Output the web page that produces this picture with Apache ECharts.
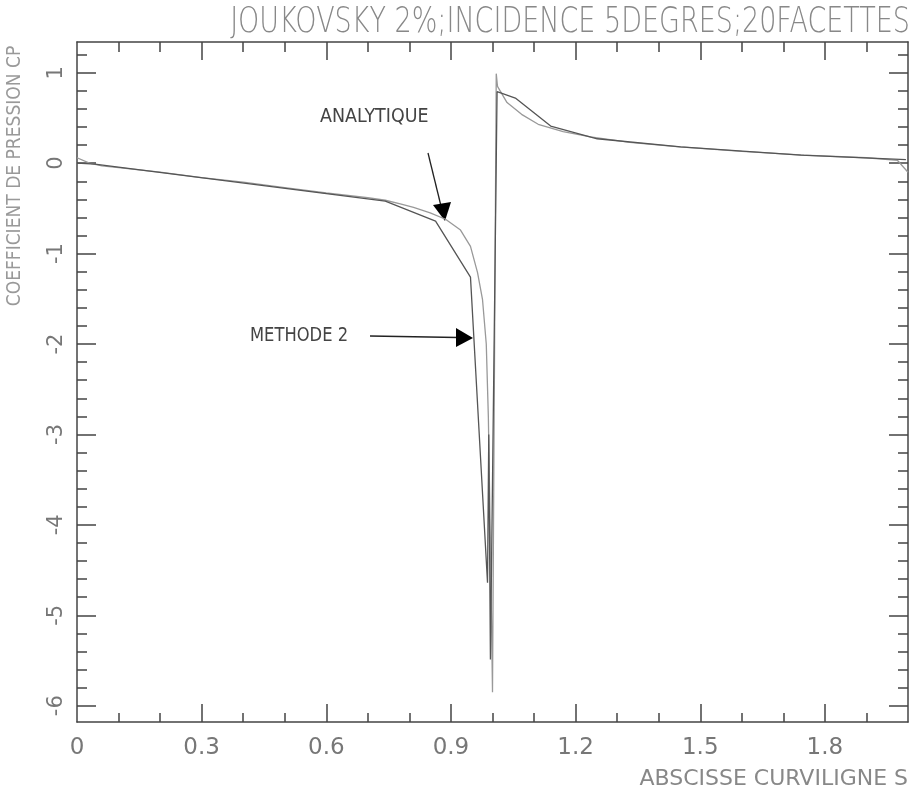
<!DOCTYPE html>
<html><head><meta charset="utf-8">
<script src="https://cdn.jsdelivr.net/npm/echarts@6/dist/echarts.min.js"></script>
<style>html,body{margin:0;padding:0;background:#fff}#c{width:912px;height:796px}</style>
</head><body><div id="c"></div>
<script>
// ---- data (abscisse curviligne s, coefficient de pression Cp) ----
const analytiqueS  = [0.000,0.030,0.060,0.100,0.200,0.300,0.400,0.500,0.600,0.700,0.742,0.778,0.810,0.850,0.887,0.923,0.947,0.964,0.976,0.985,0.990,0.995,1.000,1.009,1.012,1.035,1.070,1.110,1.170,1.236,1.330,1.450,1.600,1.750,1.900,1.975,2.000];
const analytiqueCp = [0.06,0.00,-0.03,-0.05,-0.10,-0.16,-0.21,-0.27,-0.33,-0.38,-0.41,-0.45,-0.49,-0.55,-0.62,-0.74,-0.92,-1.21,-1.51,-2.00,-2.80,-4.20,-5.85,0.99,0.85,0.67,0.54,0.43,0.35,0.29,0.23,0.18,0.13,0.09,0.06,0.03,-0.10];
const methodeS  = [0.000,0.043,0.742,0.863,0.947,0.988,0.991,0.995,1.011,1.055,1.140,1.252,1.453,1.742,1.995];
const methodeCp = [0.00,-0.01,-0.42,-0.64,-1.26,-4.64,-3.00,-5.49,0.79,0.72,0.41,0.27,0.18,0.09,0.04];
const xLabelTicks = [0,0.3,0.6,0.9,1.2,1.5,1.8];
const xMajorTicks = [0.3,0.6,0.9,1.2,1.5,1.8];
const xMinorTicks = [0.1,0.2,0.4,0.5,0.7,0.8,1.0,1.1,1.3,1.4,1.6,1.7,1.9];
const yMajorTicks = [-6,-5,-4,-3,-2,-1,0,1];
const yMinorTicks = [-5.8,-5.6,-5.4,-5.2,-4.8,-4.6,-4.4,-4.2,-3.8,-3.6,-3.4,-3.2,-2.8,-2.6,-2.4,-2.2,-1.8,-1.6,-1.4,-1.2,-0.8,-0.6,-0.4,-0.2,0.2,0.4,0.6,0.8,1.2];
const titleText = 'JOUKOVSKY 2%;INCIDENCE 5DEGRES;20FACETTES';
const xName = 'ABSCISSE CURVILIGNE S';
const yName = 'COEFFICIENT DE PRESSION CP';

const FONT = "'DejaVu Sans',sans-serif";
const X_MIN = 0, X_MAX = 2, Y_MIN = -6.18, Y_MAX = 1.34;
const lineCol = '#444';

function xAx(pos, ticks, len, showLine, labels) {
  return {
    type: 'value', position: pos, min: X_MIN, max: X_MAX,
    axisLine: {show: showLine, onZero: false, lineStyle: {color: lineCol, width: 1.5}},
    axisTick: {show: true, inside: true, length: len, customValues: ticks, lineStyle: {color: lineCol, width: 1.5}},
    axisLabel: labels ? {show: true, customValues: xLabelTicks, margin: 15, fontFamily: FONT, fontSize: 23, color: '#777',
      formatter: v => (Math.round(v*10)/10).toString()} : {show: false},
    splitLine: {show: false}
  };
}
function yAx(pos, ticks, len, showLine, labels) {
  return {
    type: 'value', position: pos, min: Y_MIN, max: Y_MAX,
    axisLine: {show: showLine, onZero: false, lineStyle: {color: lineCol, width: 1.5}},
    axisTick: {show: true, inside: true, length: len, customValues: ticks, lineStyle: {color: lineCol, width: 1.5}},
    axisLabel: labels ? {show: true, customValues: yMajorTicks, rotate: 90, margin: 10, fontFamily: FONT, fontSize: 21, color: '#777',
      formatter: v => Math.round(v).toString()} : {show: false},
    splitLine: {show: false}
  };
}

const chart = echarts.init(document.getElementById('c'), null, {renderer: 'canvas'});
chart.setOption({
  animation: false,
  backgroundColor: '#fff',
  grid: {left: 77, right: 4, top: 42, bottom: 74, containLabel: false},
  xAxis: [
    xAx('bottom', xMajorTicks, 18, true, true),
    xAx('bottom', xMinorTicks, 9, false, false),
    xAx('top', xMajorTicks, 18, true, false),
    xAx('top', xMinorTicks, 10, false, false)
  ],
  yAxis: [
    yAx('left', yMajorTicks, 19, true, true),
    yAx('left', yMinorTicks, 10, false, false),
    yAx('right', yMajorTicks, 19, true, false),
    yAx('right', yMinorTicks, 10, false, false)
  ],
  series: [
    {name: 'ANALYTIQUE', type: 'line', xAxisIndex: 0, yAxisIndex: 0, showSymbol: false, symbol: 'none',
     data: analytiqueS.map((s, i) => [s, analytiqueCp[i]]), lineStyle: {color: '#999', width: 1.3}},
    {name: 'METHODE 2', type: 'line', xAxisIndex: 0, yAxisIndex: 0, showSymbol: false, symbol: 'none',
     data: methodeS.map((s, i) => [s, methodeCp[i]]), lineStyle: {color: '#555', width: 1.3}}
  ],
  graphic: [
    {type: 'text', x: 910, y: 23, scaleX: 0.75, style: {text: titleText, font: "300 36px " + FONT, fill: '#888', align: 'right', verticalAlign: 'middle'}},
    {type: 'text', x: 908, y: 779, scaleX: 1.0, style: {text: xName, font: "22px " + FONT, fill: '#888', align: 'right', verticalAlign: 'middle'}},
    {type: 'text', x: 15, y: 176, rotation: Math.PI/2, scaleX: 0.9, style: {text: yName, font: "19px " + FONT, fill: '#999', align: 'center', verticalAlign: 'middle'}},
    {type: 'text', x: 320, y: 117, scaleX: 0.92, style: {text: 'ANALYTIQUE', font: "19px " + FONT, fill: '#444', verticalAlign: 'middle'}},
    {type: 'text', x: 250, y: 336, scaleX: 0.86, style: {text: 'METHODE 2', font: "19px " + FONT, fill: '#444', verticalAlign: 'middle'}},
    {type: 'line', shape: {x1: 428, y1: 153, x2: 441, y2: 206}, style: {stroke: '#222', lineWidth: 1.3}},
    {type: 'polygon', shape: {points: [[433,205],[451,202],[445,221]]}, style: {fill: '#000'}},
    {type: 'line', shape: {x1: 370, y1: 336, x2: 458, y2: 337.5}, style: {stroke: '#222', lineWidth: 1.5}},
    {type: 'polygon', shape: {points: [[456,328],[456,347],[473,338]]}, style: {fill: '#000'}}
  ]
});
</script></body></html>
